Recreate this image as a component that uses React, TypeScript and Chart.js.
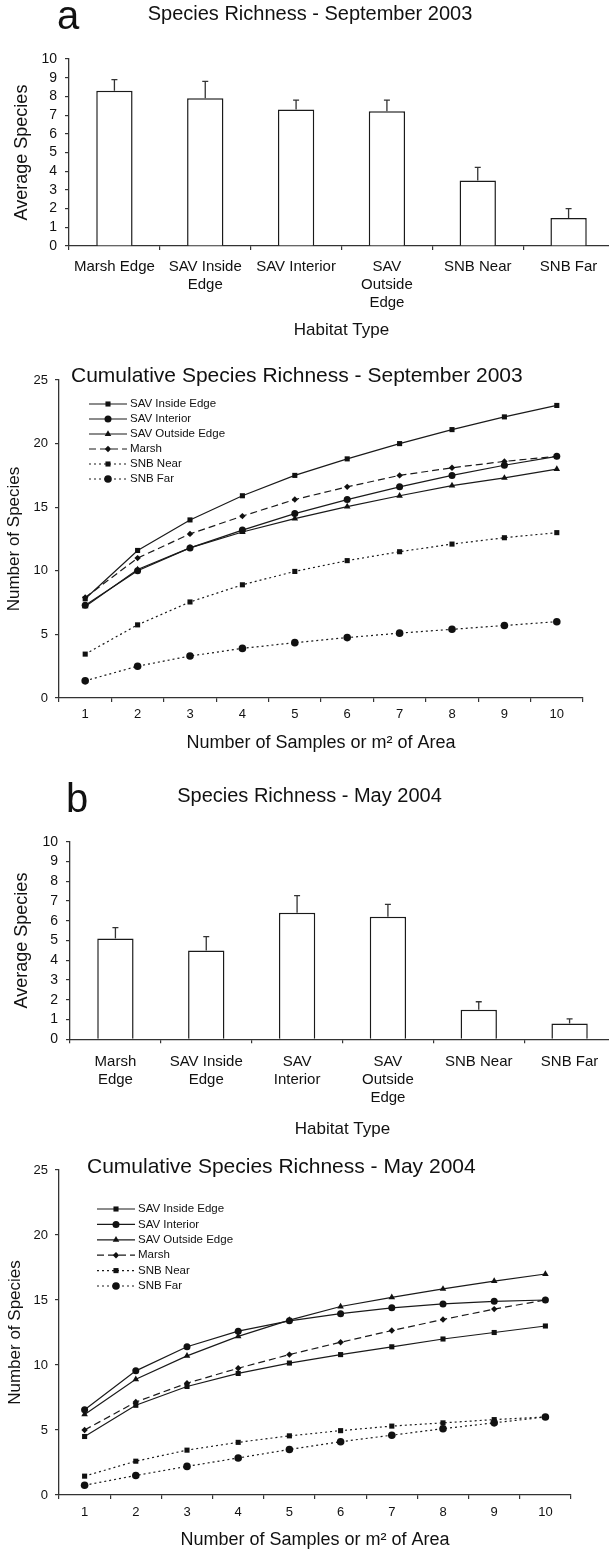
import React, { useEffect, useRef } from 'react';
import { Chart, registerables } from 'chart.js';

Chart.register(...registerables);

const FONT = '"Liberation Sans", Arial, Helvetica, sans-serif';
const INK = '#111111';
const AXIS = '#333333';

// ---------- data ----------
const habitatLabelsA = ['Marsh Edge', ['SAV Inside', 'Edge'], 'SAV Interior', ['SAV', 'Outside', 'Edge'], 'SNB Near', 'SNB Far'];
const habitatLabelsB = [['Marsh', 'Edge'], ['SAV Inside', 'Edge'], ['SAV', 'Interior'], ['SAV', 'Outside', 'Edge'], 'SNB Near', 'SNB Far'];

const sep2003Means = [8.3, 7.9, 7.3, 7.2, 3.5, 1.5];
const sep2003Errors = [0.6, 0.9, 0.5, 0.6, 0.7, 0.5];
const may2004Means = [5.1, 4.5, 6.4, 6.2, 1.5, 0.8];
const may2004Errors = [0.55, 0.7, 0.87, 0.63, 0.4, 0.23];

const sampleLabels = ['1', '2', '3', '4', '5', '6', '7', '8', '9', '10'];

const sepSavInside = [7.8, 11.6, 14.0, 15.9, 17.5, 18.8, 20.0, 21.1, 22.1, 23.0];
const sepSavInterior = [7.3, 10.0, 11.8, 13.2, 14.5, 15.6, 16.6, 17.5, 18.3, 19.0];
const sepSavOutside = [7.2, 10.1, 11.8, 13.05, 14.1, 15.05, 15.9, 16.7, 17.3, 18.0];
const sepMarsh = [7.9, 11.0, 12.9, 14.3, 15.6, 16.6, 17.5, 18.1, 18.6, 19.0];
const sepSnbNear = [3.45, 5.75, 7.55, 8.9, 9.95, 10.8, 11.5, 12.1, 12.6, 13.0];
const sepSnbFar = [1.35, 2.5, 3.3, 3.9, 4.35, 4.75, 5.1, 5.4, 5.7, 6.0];

const maySavInside = [4.5, 6.9, 8.35, 9.35, 10.15, 10.8, 11.4, 12.0, 12.5, 13.0];
const maySavInterior = [6.55, 9.55, 11.4, 12.6, 13.4, 13.95, 14.4, 14.7, 14.9, 15.0];
const maySavOutside = [6.2, 8.9, 10.7, 12.2, 13.45, 14.5, 15.2, 15.85, 16.45, 17.0];
const mayMarsh = [5.0, 7.15, 8.6, 9.75, 10.8, 11.75, 12.65, 13.5, 14.3, 15.0];
const maySnbNear = [1.45, 2.6, 3.45, 4.05, 4.55, 4.95, 5.3, 5.55, 5.8, 6.0];
const maySnbFar = [0.75, 1.5, 2.2, 2.85, 3.5, 4.1, 4.6, 5.1, 5.55, 6.0];

const seriesNames = ['SAV Inside Edge', 'SAV Interior', 'SAV Outside Edge', 'Marsh', 'SNB Near', 'SNB Far'];

// ---------- plugins ----------
function drawMarker(ctx: CanvasRenderingContext2D, style: string, x: number, y: number, r: number) {
  ctx.beginPath();
  if (style === 'rect') {
    const s = r * Math.SQRT1_2;
    ctx.rect(x - s, y - s, 2 * s, 2 * s);
  } else if (style === 'triangle') {
    let rad = 0;
    ctx.moveTo(x + Math.sin(rad) * r, y - Math.cos(rad) * r);
    rad += (2 * Math.PI) / 3;
    ctx.lineTo(x + Math.sin(rad) * r, y - Math.cos(rad) * r);
    rad += (2 * Math.PI) / 3;
    ctx.lineTo(x + Math.sin(rad) * r, y - Math.cos(rad) * r);
    ctx.closePath();
  } else if (style === 'rectRot') {
    ctx.moveTo(x, y - r);
    ctx.lineTo(x + r, y);
    ctx.lineTo(x, y + r);
    ctx.lineTo(x - r, y);
    ctx.closePath();
  } else {
    ctx.arc(x, y, r, 0, Math.PI * 2);
  }
  ctx.fill();
}

const textPlugin = {
  id: 'panelText',
  afterDraw(chart: any, _a: any, opts: any) {
    const ctx = chart.ctx as CanvasRenderingContext2D;
    ctx.save();
    (opts.items || []).forEach((it: any) => {
      ctx.font = `${it.size}px ${FONT}`;
      ctx.fillStyle = INK;
      ctx.textAlign = it.align || 'center';
      ctx.textBaseline = it.baseline || 'middle';
      ctx.fillText(it.text, it.x, it.y);
    });
    ctx.restore();
  },
};

const errorBarPlugin = {
  id: 'errorBars',
  afterDatasetsDraw(chart: any, _a: any, opts: any) {
    const errs: number[] = opts.errors || [];
    const meta = chart.getDatasetMeta(0);
    const yScale = chart.scales.y;
    const data = chart.data.datasets[0].data as number[];
    const ctx = chart.ctx as CanvasRenderingContext2D;
    ctx.save();
    ctx.strokeStyle = AXIS;
    ctx.lineWidth = 1.3;
    meta.data.forEach((el: any, i: number) => {
      const x = el.x;
      const y0 = yScale.getPixelForValue(data[i]);
      const y1 = yScale.getPixelForValue(data[i] + errs[i]);
      ctx.beginPath();
      ctx.moveTo(x, y0);
      ctx.lineTo(x, y1);
      ctx.moveTo(x - 3, y1);
      ctx.lineTo(x + 3, y1);
      ctx.stroke();
    });
    ctx.restore();
  },
};

const legendPlugin = {
  id: 'insideLegend',
  afterDraw(chart: any, _a: any, opts: any) {
    const ctx = chart.ctx as CanvasRenderingContext2D;
    ctx.save();
    chart.data.datasets.forEach((ds: any, i: number) => {
      const y = opts.y0 + i * opts.dy;
      ctx.strokeStyle = ds.borderColor;
      ctx.lineWidth = ds.borderWidth;
      ctx.setLineDash(ds.borderDash || []);
      ctx.beginPath();
      ctx.moveTo(opts.x0, y);
      ctx.lineTo(opts.x1, y);
      ctx.stroke();
      ctx.setLineDash([]);
      ctx.fillStyle = ds.pointBackgroundColor;
      drawMarker(ctx, ds.pointStyle, opts.xm, y, ds.pointRadius);
      ctx.fillStyle = INK;
      ctx.font = `${opts.size}px ${FONT}`;
      ctx.textAlign = 'left';
      ctx.textBaseline = 'middle';
      ctx.fillText(ds.label, opts.xt, y);
    });
    ctx.restore();
  },
};

// ---------- configs ----------
function barConfig(p: any) {
  return {
    type: 'bar',
    data: {
      labels: p.labels,
      datasets: [
        {
          data: p.means,
          backgroundColor: '#ffffff',
          borderColor: '#1a1a1a',
          borderWidth: 1.5,
          barPercentage: 0.8,
          categoryPercentage: 0.5,
        },
      ],
    },
    options: {
      responsive: false,
      animation: false,
      devicePixelRatio: 1,
      layout: { padding: { top: p.top, left: 0, right: p.right, bottom: p.bottom } },
      plugins: {
        legend: { display: false },
        tooltip: { enabled: false },
        title: { display: false },
        panelText: { items: p.texts },
        errorBars: { errors: p.errors },
      },
      scales: {
        x: {
          grid: { display: true, drawOnChartArea: false, drawTicks: true, tickLength: 4, offset: true, color: AXIS, lineWidth: 1.2 },
          border: { display: true, color: AXIS, width: 1.3 },
          ticks: { font: { size: 15, family: FONT }, color: INK, padding: p.xPad, maxRotation: 0, autoSkip: false },
          title: { display: true, text: 'Habitat Type', color: INK, font: { size: 17, family: FONT }, padding: { top: 0, bottom: 0 } },
          afterFit: (s: any) => { s.height = p.xh; },
        },
        y: {
          min: 0,
          max: 10,
          grid: { display: true, drawOnChartArea: false, drawTicks: true, tickLength: 4, color: AXIS, lineWidth: 1.2 },
          border: { display: true, color: AXIS, width: 1.3 },
          ticks: { stepSize: 1, autoSkip: false, font: { size: 14, family: FONT }, color: INK, padding: 8 },
          title: { display: true, text: 'Average Species', color: INK, font: { size: 18, family: FONT }, padding: { top: 11.2, bottom: 0 } },
          afterFit: (s: any) => { s.width = p.yw; },
        },
      },
    },
    plugins: [textPlugin, errorBarPlugin],
  };
}

function lineDatasets(vals: number[][]) {
  const styles = [
    { pointStyle: 'rect', pointRadius: 3.6, borderDash: [] },
    { pointStyle: 'circle', pointRadius: 3.5, borderDash: [] },
    { pointStyle: 'triangle', pointRadius: 3.8, borderDash: [] },
    { pointStyle: 'rectRot', pointRadius: 3.2, borderDash: [7, 4] },
    { pointStyle: 'rect', pointRadius: 3.6, borderDash: [2, 3] },
    { pointStyle: 'circle', pointRadius: 3.8, borderDash: [2, 3] },
  ];
  return vals.map((v, i) => ({
    label: seriesNames[i],
    data: v,
    borderColor: '#1a1a1a',
    borderWidth: 1.2,
    borderDash: styles[i].borderDash,
    pointStyle: styles[i].pointStyle,
    pointRadius: styles[i].pointRadius,
    pointBackgroundColor: '#111111',
    pointBorderColor: '#111111',
    pointBorderWidth: 0,
    fill: false,
    tension: 0,
  }));
}

function lineConfig(p: any) {
  return {
    type: 'line',
    data: { labels: sampleLabels, datasets: lineDatasets(p.series) },
    options: {
      responsive: false,
      animation: false,
      devicePixelRatio: 1,
      layout: { padding: { top: p.top, left: 0, right: p.right, bottom: p.bottom } },
      plugins: {
        legend: { display: false },
        tooltip: { enabled: false },
        title: { display: false },
        panelText: { items: p.texts },
        insideLegend: p.legend,
      },
      scales: {
        x: {
          type: 'category',
          offset: true,
          grid: { display: true, drawOnChartArea: false, drawTicks: true, tickLength: 4, offset: true, color: AXIS, lineWidth: 1.2 },
          border: { display: true, color: AXIS, width: 1.3 },
          ticks: { font: { size: 13, family: FONT }, color: INK, padding: p.xPad, maxRotation: 0, autoSkip: false },
          title: { display: true, text: 'Number of Samples or m² of Area', color: INK, font: { size: 18, family: FONT }, padding: { top: 0, bottom: 0 } },
          afterFit: (s: any) => { s.height = p.xh; },
        },
        y: {
          min: 0,
          max: 25,
          grid: { display: true, drawOnChartArea: false, drawTicks: true, tickLength: 4, color: AXIS, lineWidth: 1.2 },
          border: { display: true, color: AXIS, width: 1.3 },
          ticks: { stepSize: 5, autoSkip: false, font: { size: 13, family: FONT }, color: INK, padding: 7 },
          title: { display: true, text: 'Number of Species', color: INK, font: { size: 17, family: FONT }, padding: { top: p.yTitlePad, bottom: 0 } },
          afterFit: (s: any) => { s.width = p.yw; },
        },
      },
    },
    plugins: [textPlugin, legendPlugin],
  };
}

function ChartCanvas({ top, width, height, make }: { top: number; width: number; height: number; make: () => any }) {
  const ref = useRef<HTMLCanvasElement>(null);
  useEffect(() => {
    const chart = new Chart(ref.current as HTMLCanvasElement, make());
    return () => chart.destroy();
  }, []);
  return (
    <canvas
      ref={ref}
      width={width}
      height={height}
      style={{ position: 'absolute', left: 0, top, width, height, display: 'block' }}
    />
  );
}

export default function App() {
  return (
    <div style={{ position: 'absolute', left: 0, top: 0, width: 609, height: 1551, overflow: 'hidden', background: '#ffffff' }}>
      <ChartCanvas
        top={0}
        width={620}
        height={350}
        make={() =>
          barConfig({
            labels: habitatLabelsA,
            means: sep2003Means,
            errors: sep2003Errors,
            top: 59,
            right: 6,
            bottom: 9.8,
            xh: 94.2,
            yw: 69,
            xPad: 8,
            texts: [
              { text: 'a', x: 57, y: 29, size: 40, align: 'left', baseline: 'alphabetic' },
              { text: 'Species Richness - September 2003', x: 310, y: 14, size: 20 },
            ],
          })
        }
      />
      <ChartCanvas
        top={350}
        width={609}
        height={410}
        make={() =>
          lineConfig({
            series: [sepSavInside, sepSavInterior, sepSavOutside, sepMarsh, sepSnbNear, sepSnbFar],
            top: 30,
            right: 26,
            bottom: 6.2,
            xh: 55.8,
            yw: 59,
            xPad: 5,
            yTitlePad: 3.8,
            legend: { x0: 89, x1: 127, xm: 108, xt: 130, y0: 54, dy: 15, size: 11.5 },
            texts: [{ text: 'Cumulative Species Richness - September 2003', x: 71, y: 26, size: 21, align: 'left' }],
          })
        }
      />
      <ChartCanvas
        top={770}
        width={620}
        height={380}
        make={() =>
          barConfig({
            labels: habitatLabelsB,
            means: may2004Means,
            errors: may2004Errors,
            top: 71.7,
            right: 5,
            bottom: 10.8,
            xh: 99.9,
            yw: 70,
            xPad: 10,
            texts: [
              { text: 'b', x: 66, y: 42, size: 40, align: 'left', baseline: 'alphabetic' },
              { text: 'Species Richness - May 2004', x: 309.5, y: 26, size: 20 },
            ],
          })
        }
      />
      <ChartCanvas
        top={1150}
        width={609}
        height={401}
        make={() =>
          lineConfig({
            series: [maySavInside, maySavInterior, maySavOutside, mayMarsh, maySnbNear, maySnbFar],
            top: 20,
            right: 38,
            bottom: 0.2,
            xh: 55.8,
            yw: 59,
            xPad: 6,
            yTitlePad: 4.8,
            legend: { x0: 97, x1: 135, xm: 116, xt: 138, y0: 59, dy: 15.4, size: 11.5 },
            texts: [{ text: 'Cumulative Species Richness - May 2004', x: 87, y: 17, size: 21, align: 'left' }],
          })
        }
      />
    </div>
  );
}
